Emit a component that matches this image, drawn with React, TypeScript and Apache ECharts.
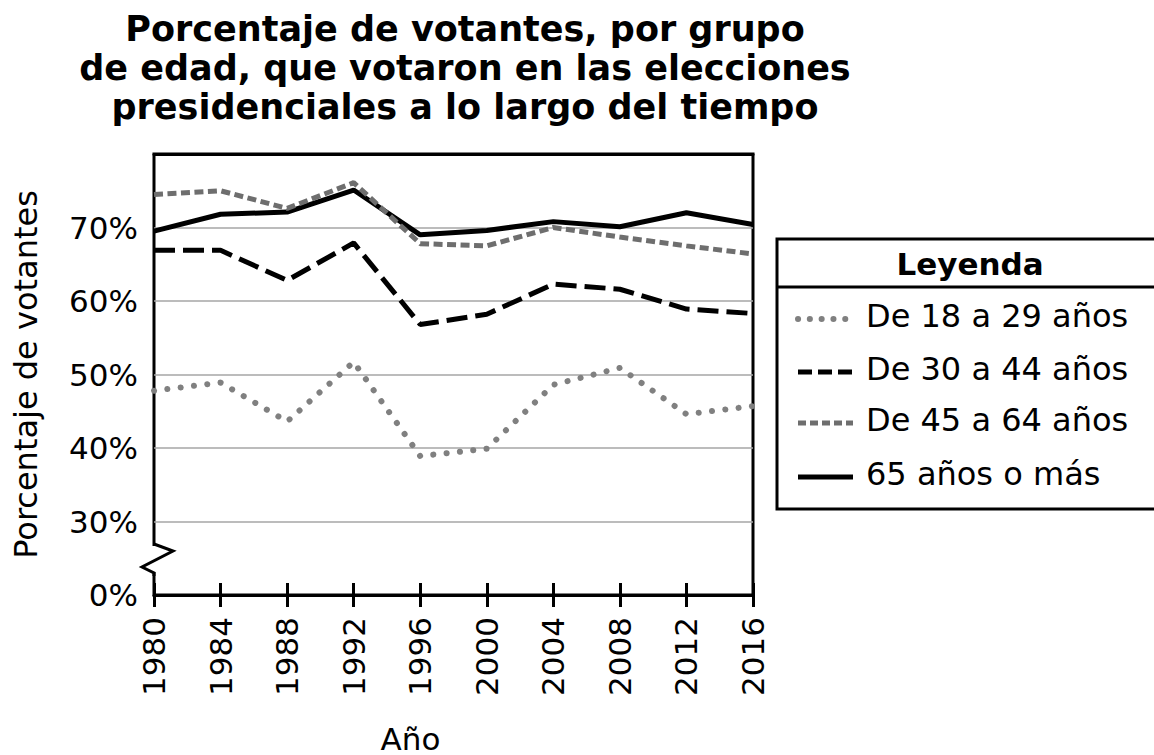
import React, { useEffect, useRef } from "react";
import * as echarts from "echarts";

const years = ["1980", "1984", "1988", "1992", "1996", "2000", "2004", "2008", "2012", "2016"];
const age18to29 = [47.8, 48.9, 43.6, 51.7, 38.9, 39.9, 48.6, 50.9, 44.6, 45.7];
const age30to44 = [66.9, 66.9, 62.8, 67.9, 56.8, 58.2, 62.3, 61.6, 58.9, 58.3];
const age45to64 = [74.5, 75.0, 72.6, 76.1, 67.8, 67.5, 70.0, 68.7, 67.5, 66.4];
const age65plus = [69.5, 71.8, 72.1, 75.1, 69.0, 69.6, 70.8, 70.1, 72.0, 70.4];
const seriesNames = ["De 18 a 29 años", "De 30 a 44 años", "De 45 a 64 años", "65 años o más"];

const FONT = "DejaVu Sans";

export default function App() {
  const ref = useRef<HTMLDivElement>(null);
  useEffect(() => {
    if (!ref.current) return;
    const chart = echarts.init(ref.current, undefined, { renderer: "svg" });
    const gL = 154, gR = 753, gT = 154, gB = 595;
    const legendItems = [
      { y: 319, color: "#808080", dash: [0.1, 11.7], width: 6, cap: "round" },
      { y: 372, color: "#000000", dash: [14, 6], width: 5, cap: "butt" },
      { y: 423, color: "#6e6e6e", dash: [8, 4], width: 5, cap: "butt" },
      { y: 477, color: "#000000", dash: null, width: 5, cap: "butt" },
    ];
    const legendGraphics: any[] = [
      { type: "rect", shape: { x: 777, y: 239, width: 420, height: 270 }, style: { fill: "#fff", stroke: "#000", lineWidth: 3 } },
      { type: "line", shape: { x1: 777, y1: 287, x2: 1160, y2: 287 }, style: { stroke: "#000", lineWidth: 3 } },
      { type: "text", x: 970, y: 264, style: { text: "Leyenda", font: `bold 31px '${FONT}'`, fill: "#000", align: "center", verticalAlign: "middle" } },
    ];
    legendItems.forEach((it, i) => {
      legendGraphics.push({
        type: "line",
        shape: { x1: 798, y1: it.y, x2: 853, y2: it.y },
        style: { stroke: it.color, lineWidth: it.width, lineDash: it.dash || undefined, lineCap: it.cap },
      });
      legendGraphics.push({
        type: "text",
        x: 866,
        y: it.y - 3,
        style: { text: seriesNames[i], font: `32px '${FONT}'`, fill: "#000", align: "left", verticalAlign: "middle" },
      });
    });
    chart.setOption({
      animation: false,
      backgroundColor: "#fff",
      textStyle: { fontFamily: FONT },
      title: {
        text: "Porcentaje de votantes, por grupo\nde edad, que votaron en las elecciones\npresidenciales a lo largo del tiempo",
        left: 460,
        top: 4,
        textAlign: "center",
        textStyle: { fontFamily: FONT, fontWeight: "bold", fontSize: 35, lineHeight: 39, color: "#000" },
      },
      grid: {
        left: gL, right: 1154 - gR, top: gT, bottom: 755 - gB,
        outerBoundsMode: "none", containLabel: false,
        show: true, borderColor: "#000", borderWidth: 3, backgroundColor: "transparent",
      },
      xAxis: [
        {
          type: "category",
          data: years,
          boundaryGap: false,
          name: "Año",
          nameLocation: "middle",
          nameGap: 128,
          nameTextStyle: { fontFamily: FONT, fontSize: 31, color: "#000", padding: [0, 86, 0, 0] },
          axisLine: { lineStyle: { color: "#000", width: 3 } },
          axisTick: { show: true, inside: false, length: 12, lineStyle: { color: "#000", width: 3 } },
          axisLabel: { rotate: 90, margin: 22, fontFamily: FONT, fontSize: 31, color: "#000" },
          splitLine: { show: false },
        },
        {
          type: "category",
          data: years,
          boundaryGap: false,
          position: "bottom",
          axisLine: { show: false },
          axisTick: { show: true, inside: true, length: 12, lineStyle: { color: "#000", width: 3 } },
          axisLabel: { show: false },
          splitLine: { show: false },
        },
        {
          type: "category",
          data: years,
          boundaryGap: false,
          position: "top",
          axisLine: { show: true, lineStyle: { color: "#000", width: 3 } },
          axisTick: { show: false },
          axisLabel: { show: false },
          splitLine: { show: false },
        },
      ],
      yAxis: {
        type: "value",
        min: 20,
        max: 80,
        interval: 10,
        name: "Porcentaje de votantes",
        nameLocation: "middle",
        nameGap: 112,
        nameTextStyle: { fontFamily: FONT, fontSize: 32, color: "#000" },
        axisLine: { show: false },
        axisTick: { show: false },
        axisLabel: {
          margin: 16,
          fontFamily: FONT,
          fontSize: 31,
          color: "#000",
          formatter: (v: number) => (v === 20 ? "0%" : v === 80 ? "" : v + "%"),
        },
        splitLine: { lineStyle: { color: "#a6a6a6", width: 1.5 } },
      },
      series: [
        {
          name: seriesNames[0],
          type: "line",
          data: age18to29,
          symbol: "none",
          lineStyle: { color: "#808080", width: 6, type: [0.1, 13.3], cap: "round" },
          z: 3,
        },
        {
          name: seriesNames[1],
          type: "line",
          data: age30to44,
          symbol: "none",
          lineStyle: { color: "#000", width: 5, type: [21, 8] },
          z: 3,
        },
        {
          name: seriesNames[3],
          type: "line",
          data: age65plus,
          symbol: "none",
          lineStyle: { color: "#000", width: 5, type: "solid" },
          z: 3,
        },
        {
          name: seriesNames[2],
          type: "line",
          data: age45to64,
          symbol: "none",
          lineStyle: { color: "#6e6e6e", width: 5, type: [9, 4.5] },
          z: 4,
        },
      ],
      graphic: [
        { type: "rect", shape: { x: 148, y: 546, width: 12, height: 26 }, style: { fill: "#fff" }, z: 100 },
        {
          type: "polyline",
          shape: { points: [[gL, 544], [173, 551], [142, 567], [gL, 573], [gL, 576]] },
          style: { stroke: "#000", lineWidth: 3, fill: "none" },
          z: 101,
        },
        ...legendGraphics,
      ],
    });
    return () => chart.dispose();
  }, []);
  return <div ref={ref} style={{ position: "fixed", left: 0, top: 0, width: 1154, height: 755 }} />;
}
